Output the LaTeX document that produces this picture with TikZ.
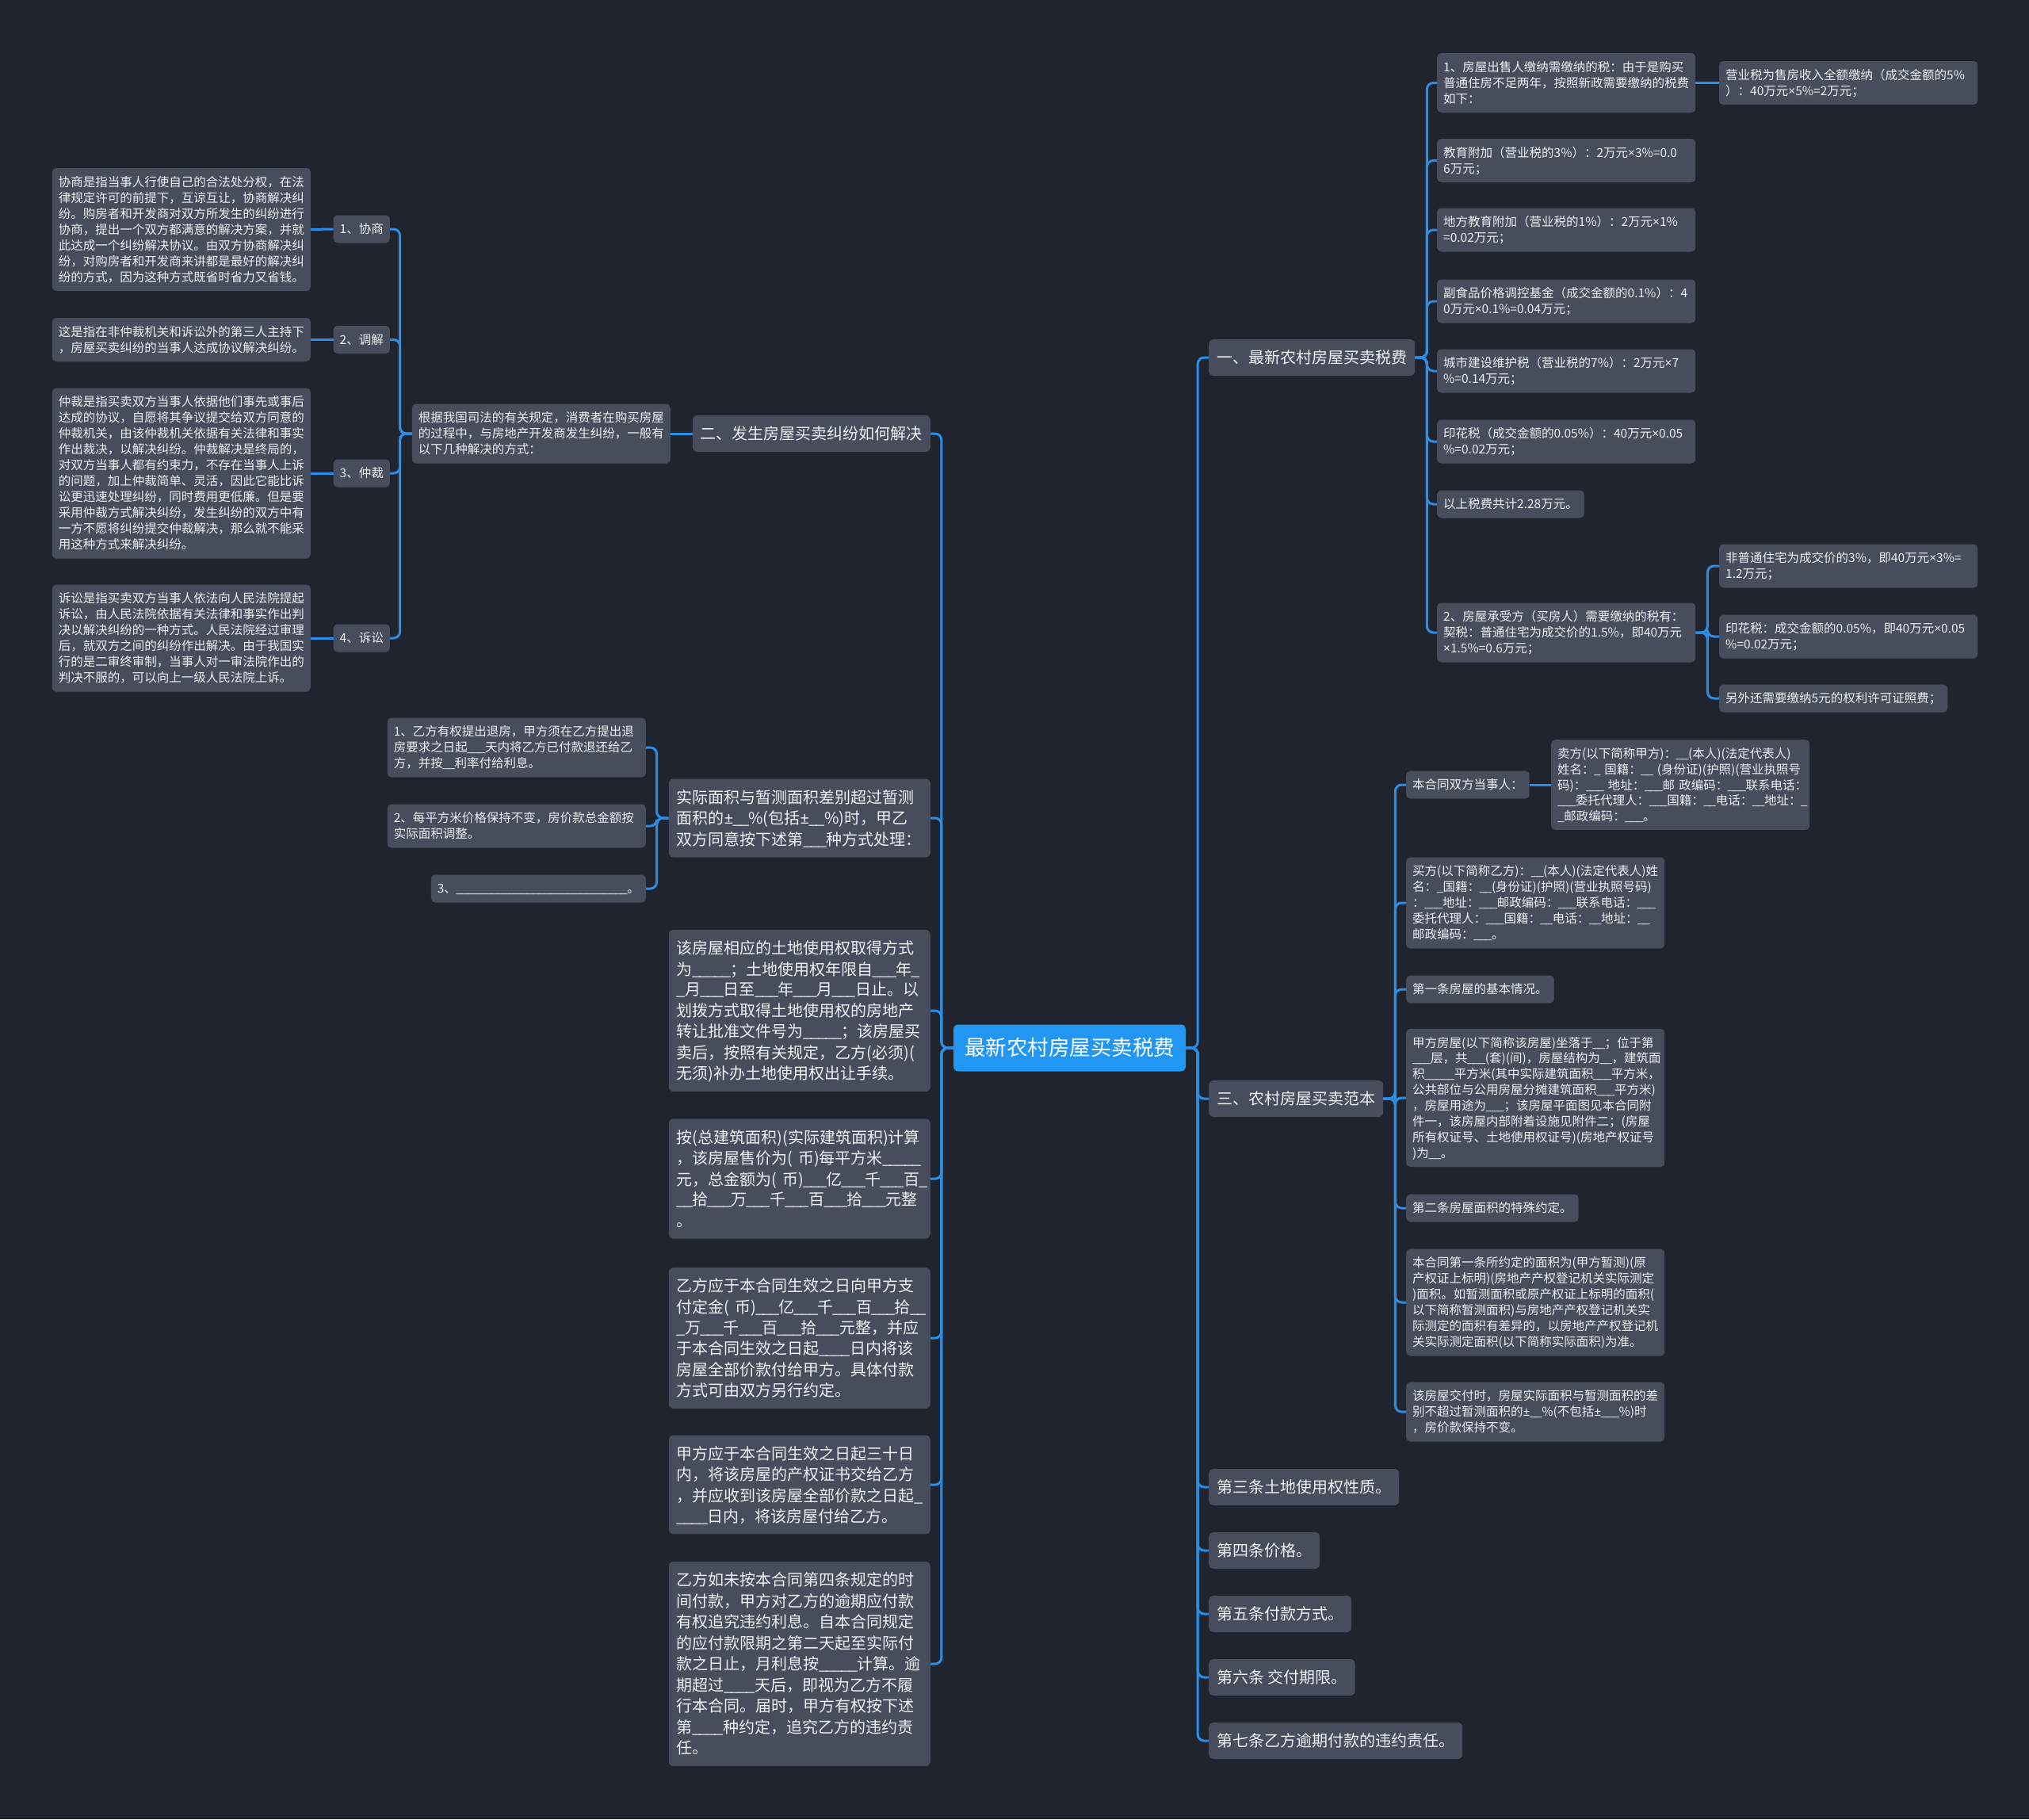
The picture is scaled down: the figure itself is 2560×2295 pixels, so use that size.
\documentclass[tikz,border=0pt]{standalone}
\usepackage{fontspec}
\setmainfont{Noto Sans CJK SC}
\newfontfamily\latinfont{Noto Sans}

\definecolor{bgdark}{HTML}{20242F}
\definecolor{boxgray}{HTML}{474D5C}
\definecolor{linkblue}{HTML}{2A8EE6}
\definecolor{rootblue}{HTML}{2196F3}
\definecolor{textwhite}{HTML}{EEF0F4}

% strut that centres one line of CJK text
\newcommand{\mmstrut}{\rule[-.21\baselineskip]{0pt}{\baselineskip}}
% narrow signs and blanks
\newcommand{\xsign}{{\latinfont ×}}
\newcommand{\pmsign}{{\latinfont ±}}
\renewcommand{\_}{\kern-.04em\textunderscore\kern-.04em}

\begin{document}
\begin{tikzpicture}[
    x=1pt, y=-1pt,
    every node/.style={text=textwhite, execute at begin node=\mmstrut, execute at end node=\mmstrut},
    root/.style={fill=rootblue, text=white, rounded corners=6pt, inner xsep=14pt, inner ysep=13.5pt, font=\fontsize{26.5}{32}\selectfont},
    topic/.style={fill=boxgray, rounded corners=6pt, inner xsep=10pt, inner ysep=9.75pt, font=\fontsize{20}{26.5}\selectfont},
    bigbox/.style={topic, text width=310pt, align=left},
    leaf/.style={fill=boxgray, rounded corners=5pt, inner xsep=8pt, inner ysep=7.5pt, font=\fontsize{15.5}{20}\selectfont},
    leafbox/.style={leaf, text width=310pt, align=left},
    link/.style={draw=linkblue, line width=3pt, rounded corners=8pt}
]

    % Background
    \fill[bgdark] (0,0) rectangle (2560,2295);

    % Central topic
    \node[root] (root) at (1349.5,1322) {最新农村房屋买卖税费};

    % Right: taxes
    \node[topic, anchor=west] (tax) at (1525,451) {一、最新农村房屋买卖税费};
    \node[leafbox, anchor=west] (sellerTax) at (1813,104.5) {1、房屋出售人缴纳需缴纳的税：由于是购买\\普通住房不足两年，按照新政需要缴纳的税费\\如下：};
    \node[leafbox, anchor=west] (bizTax) at (2169,104.5) {营业税为售房收入全额缴纳（成交金额的5\%\\）：40万元\xsign5\%=2万元；};
    \node[leafbox, anchor=west] (eduTax) at (1813,202.5) {教育附加（营业税的3\%）：2万元\xsign3\%=0.0\\6万元；};
    \node[leafbox, anchor=west] (localEdu) at (1813,290) {地方教育附加（营业税的1\%）：2万元\xsign1\%\\=0.02万元；};
    \node[leafbox, anchor=west] (foodFund) at (1813,380) {副食品价格调控基金（成交金额的0.1\%）：4\\0万元\xsign0.1\%=0.04万元；};
    \node[leafbox, anchor=west] (cityTax) at (1813,468) {城市建设维护税（营业税的7\%）：2万元\xsign7\\\%=0.14万元；};
    \node[leafbox, anchor=west] (stampTax) at (1813,557) {印花税（成交金额的0.05\%）：40万元\xsign0.05\\\%=0.02万元；};
    \node[leaf, anchor=west] (taxTotal) at (1813,636) {以上税费共计2.28万元。};
    \node[leafbox, anchor=west] (buyerTax) at (1813,798) {2、房屋承受方（买房人）需要缴纳的税有：\\契税：普通住宅为成交价的1.5\%，即40万元\\\xsign1.5\%=0.6万元；};
    \node[leafbox, anchor=west] (buyerA) at (2169,714) {非普通住宅为成交价的3\%，即40万元\xsign3\%=\\1.2万元；};
    \node[leafbox, anchor=west] (buyerB) at (2169,803) {印花税：成交金额的0.05\%，即40万元\xsign0.05\\\%=0.02万元；};
    \node[leaf, anchor=west] (buyerC) at (2169,881) {另外还需要缴纳5元的权利许可证照费；};

    % Right: contract sample
    \node[topic, anchor=west] (sample) at (1525,1386) {三、农村房屋买卖范本};
    \node[leaf, anchor=west] (parties) at (1774,990) {本合同双方当事人：};
    \node[leafbox, anchor=west] (seller) at (1957,990) {卖方(以下简称甲方)：\_\_(本人)(法定代表人)\\姓名：\_~国籍：\_\_~(身份证)(护照)(营业执照号\\码)：\_\_\_~地址：\_\_\_邮~政编码：\_\_\_联系电话：\\\_\_\_委托代理人：\_\_\_国籍：\_\_电话：\_\_地址：\_\\\_邮政编码：\_\_\_。};
    \node[leafbox, anchor=west] (buyer) at (1774,1139) {买方(以下简称乙方)：\_\_(本人)(法定代表人)姓\\名：\_国籍：\_\_(身份证)(护照)(营业执照号码)\\：\_\_\_地址：\_\_\_邮政编码：\_\_\_联系电话：\_\_\_\\委托代理人：\_\_\_国籍：\_\_电话：\_\_地址：\_\_\\邮政编码：\_\_\_。};
    \node[leaf, anchor=west] (art1) at (1774,1248) {第一条房屋的基本情况。};
    \node[leafbox, anchor=west] (houseInfo) at (1774,1385) {甲方房屋(以下简称该房屋)坐落于\_\_；位于第\\\_\_\_层，共\_\_\_(套)(间)，房屋结构为\_\_，建筑面\\积\_\_\_\_\_平方米(其中实际建筑面积\_\_\_平方米，\\公共部位与公用房屋分摊建筑面积\_\_\_平方米)\\，房屋用途为\_\_\_；该房屋平面图见本合同附\\件一，该房屋内部附着设施见附件二；(房屋\\所有权证号、土地使用权证号)(房地产权证号\\)为\_\_。};
    \node[leaf, anchor=west] (art2) at (1774,1524) {第二条房屋面积的特殊约定。};
    \node[leafbox, anchor=west] (areaRule) at (1774,1643) {本合同第一条所约定的面积为(甲方暂测)(原\\产权证上标明)(房地产产权登记机关实际测定\\)面积。如暂测面积或原产权证上标明的面积(\\以下简称暂测面积)与房地产产权登记机关实\\际测定的面积有差异的，以房地产产权登记机\\关实际测定面积(以下简称实际面积)为准。};
    \node[leafbox, anchor=west] (areaDiff) at (1774,1781) {该房屋交付时，房屋实际面积与暂测面积的差\\别不超过暂测面积的\pmsign\_\_\%(不包括\pmsign\_\_\_\%)时\\，房价款保持不变。};
    \node[topic, anchor=west] (art3) at (1525,1876) {第三条土地使用权性质。};
    \node[topic, anchor=west] (art4) at (1525,1956) {第四条价格。};
    \node[topic, anchor=west] (art5) at (1525,2036) {第五条付款方式。};
    \node[topic, anchor=west] (art6) at (1525,2116) {第六条 交付期限。};
    \node[topic, anchor=west] (art7) at (1525,2196) {第七条乙方逾期付款的违约责任。};

    % Left: disputes
    \node[topic, anchor=east] (dispute) at (1174,547) {二、发生房屋买卖纠纷如何解决};
    \node[leafbox, anchor=east] (disputeIntro) at (846,547) {根据我国司法的有关规定，消费者在购买房屋\\的过程中，与房地产开发商发生纠纷，一般有\\以下几种解决的方式：};
    \node[leaf, anchor=east] (talk) at (492,289) {1、协商};
    \node[leaf, anchor=east] (mediate) at (492,428.5) {2、调解};
    \node[leaf, anchor=east] (arbit) at (492,597) {3、仲裁};
    \node[leaf, anchor=east] (suit) at (492,805) {4、诉讼};
    \node[leafbox, anchor=east] (talkText) at (392,289.5) {协商是指当事人行使自己的合法处分权，在法\\律规定许可的前提下，互谅互让，协商解决纠\\纷。购房者和开发商对双方所发生的纠纷进行\\协商，提出一个双方都满意的解决方案，并就\\此达成一个纠纷解决协议。由双方协商解决纠\\纷，对购房者和开发商来讲都是最好的解决纠\\纷的方式，因为这种方式既省时省力又省钱。};
    \node[leafbox, anchor=east] (mediateText) at (392,428.5) {这是指在非仲裁机关和诉讼外的第三人主持下\\，房屋买卖纠纷的当事人达成协议解决纠纷。};
    \node[leafbox, anchor=east] (arbitText) at (392,597) {仲裁是指买卖双方当事人依据他们事先或事后\\达成的协议，自愿将其争议提交给双方同意的\\仲裁机关，由该仲裁机关依据有关法律和事实\\作出裁决，以解决纠纷。仲裁解决是终局的，\\对双方当事人都有约束力，不存在当事人上诉\\的问题，加上仲裁简单、灵活，因此它能比诉\\讼更迅速处理纠纷，同时费用更低廉。但是要\\采用仲裁方式解决纠纷，发生纠纷的双方中有\\一方不愿将纠纷提交仲裁解决，那么就不能采\\用这种方式来解决纠纷。};
    \node[leafbox, anchor=east] (suitText) at (392,805) {诉讼是指买卖双方当事人依法向人民法院提起\\诉讼，由人民法院依据有关法律和事实作出判\\决以解决纠纷的一种方式。人民法院经过审理\\后，就双方之间的纠纷作出解决。由于我国实\\行的是二审终审制，当事人对一审法院作出的\\判决不服的，可以向上一级人民法院上诉。};

    % Left: contract clauses
    \node[bigbox, anchor=east] (areaOver) at (1174,1032) {实际面积与暂测面积差别超过暂测\\面积的\pmsign\_\_\%(包括\pmsign\_\_\%)时，甲乙\\双方同意按下述第\_\_\_种方式处理：};
    \node[leafbox, anchor=east] (refund) at (815,943) {1、乙方有权提出退房，甲方须在乙方提出退\\房要求之日起\_\_\_天内将乙方已付款退还给乙\\方，并按\_\_利率付给利息。};
    \node[leafbox, anchor=east] (keepPrice) at (815,1042) {2、每平方米价格保持不变，房价款总金额按\\实际面积调整。};
    \node[leaf, anchor=east] (other) at (815,1121) {3、\_\_\_\_\_\_\_\_\_\_\_\_\_\_\_\_\_\_\_\_\_\_\_\_\_\_\_\_\_。};
    \node[bigbox, anchor=east] (landUse) at (1174,1275) {该房屋相应的土地使用权取得方式\\为\_\_\_\_\_；土地使用权年限自\_\_\_年\_\\\_月\_\_\_日至\_\_\_年\_\_\_月\_\_\_日止。以\\划拨方式取得土地使用权的房地产\\转让批准文件号为\_\_\_\_\_；该房屋买\\卖后，按照有关规定，乙方(必须)(\\无须)补办土地使用权出让手续。};
    \node[bigbox, anchor=east] (price) at (1174,1487) {按(总建筑面积)(实际建筑面积)计算\\，该房屋售价为(~币)每平方米\_\_\_\_\_\\元，总金额为(~币)\_\_\_亿\_\_\_千\_\_\_百\_\\\_\_拾\_\_\_万\_\_\_千\_\_\_百\_\_\_拾\_\_\_元整\\。};
    \node[bigbox, anchor=east] (payment) at (1174,1688) {乙方应于本合同生效之日向甲方支\\付定金(~币)\_\_\_亿\_\_\_千\_\_\_百\_\_\_拾\_\_\\\_万\_\_\_千\_\_\_百\_\_\_拾\_\_\_元整，并应\\于本合同生效之日起\_\_\_\_日内将该\\房屋全部价款付给甲方。具体付款\\方式可由双方另行约定。};
    \node[bigbox, anchor=east] (deliver) at (1174,1873) {甲方应于本合同生效之日起三十日\\内，将该房屋的产权证书交给乙方\\，并应收到该房屋全部价款之日起\_\\\_\_\_\_日内，将该房屋付给乙方。};
    \node[bigbox, anchor=east] (lateFee) at (1174,2099) {乙方如未按本合同第四条规定的时\\间付款，甲方对乙方的逾期应付款\\有权追究违约利息。自本合同规定\\的应付款限期之第二天起至实际付\\款之日止，月利息按\_\_\_\_\_计算。逾\\期超过\_\_\_\_天后，即视为乙方不履\\行本合同。届时，甲方有权按下述\\第\_\_\_\_种约定，追究乙方的违约责\\任。};

    % Connectors: root to right
    \draw[link] (root.east) -- ++(15,0) |- (tax.west);
    \draw[link] (root.east) -- ++(15,0) |- (sample.west);
    \draw[link] (root.east) -- ++(15,0) |- (art3.west);
    \draw[link] (root.east) -- ++(15,0) |- (art4.west);
    \draw[link] (root.east) -- ++(15,0) |- (art5.west);
    \draw[link] (root.east) -- ++(15,0) |- (art6.west);
    \draw[link] (root.east) -- ++(15,0) |- (art7.west);

    % Connectors: taxes
    \draw[link] (tax.east) -- ++(15,0) |- (sellerTax.west);
    \draw[link] (tax.east) -- ++(15,0) |- (eduTax.west);
    \draw[link] (tax.east) -- ++(15,0) |- (localEdu.west);
    \draw[link] (tax.east) -- ++(15,0) |- (foodFund.west);
    \draw[link] (tax.east) -- ++(15,0) |- (cityTax.west);
    \draw[link] (tax.east) -- ++(15,0) |- (stampTax.west);
    \draw[link] (tax.east) -- ++(15,0) |- (taxTotal.west);
    \draw[link] (tax.east) -- ++(15,0) |- (buyerTax.west);
    \draw[link] (sellerTax.east) -- (bizTax.west);
    \draw[link] (buyerTax.east) -- ++(15,0) |- (buyerA.west);
    \draw[link] (buyerTax.east) -- ++(15,0) |- (buyerB.west);
    \draw[link] (buyerTax.east) -- ++(15,0) |- (buyerC.west);

    % Connectors: contract sample
    \draw[link] (sample.east) -- ++(15,0) |- (parties.west);
    \draw[link] (sample.east) -- ++(15,0) |- (buyer.west);
    \draw[link] (sample.east) -- ++(15,0) |- (art1.west);
    \draw[link] (sample.east) -- ++(15,0) |- (houseInfo.west);
    \draw[link] (sample.east) -- ++(15,0) |- (art2.west);
    \draw[link] (sample.east) -- ++(15,0) |- (areaRule.west);
    \draw[link] (sample.east) -- ++(15,0) |- (areaDiff.west);
    \draw[link] (parties.east) -- (seller.west);

    % Connectors: root to left
    \draw[link] (root.west) -- ++(-15,0) |- (dispute.east);
    \draw[link] (root.west) -- ++(-15,0) |- (areaOver.east);
    \draw[link] (root.west) -- ++(-15,0) |- (landUse.east);
    \draw[link] (root.west) -- ++(-15,0) |- (price.east);
    \draw[link] (root.west) -- ++(-15,0) |- (payment.east);
    \draw[link] (root.west) -- ++(-15,0) |- (deliver.east);
    \draw[link] (root.west) -- ++(-15,0) |- (lateFee.east);

    % Connectors: disputes
    \draw[link] (dispute.west) -- (disputeIntro.east);
    \draw[link] (disputeIntro.west) -- ++(-15,0) |- (talk.east);
    \draw[link] (disputeIntro.west) -- ++(-15,0) |- (mediate.east);
    \draw[link] (disputeIntro.west) -- ++(-15,0) |- (arbit.east);
    \draw[link] (disputeIntro.west) -- ++(-15,0) |- (suit.east);
    \draw[link] (talk.west) -- (talkText.east);
    \draw[link] (mediate.west) -- (mediateText.east);
    \draw[link] (arbit.west) -- (arbitText.east);
    \draw[link] (suit.west) -- (suitText.east);

    % Connectors: area difference
    \draw[link] (areaOver.west) -- ++(-15,0) |- (refund.east);
    \draw[link] (areaOver.west) -- ++(-15,0) |- (keepPrice.east);
    \draw[link] (areaOver.west) -- ++(-15,0) |- (other.east);

\end{tikzpicture}
\end{document}
